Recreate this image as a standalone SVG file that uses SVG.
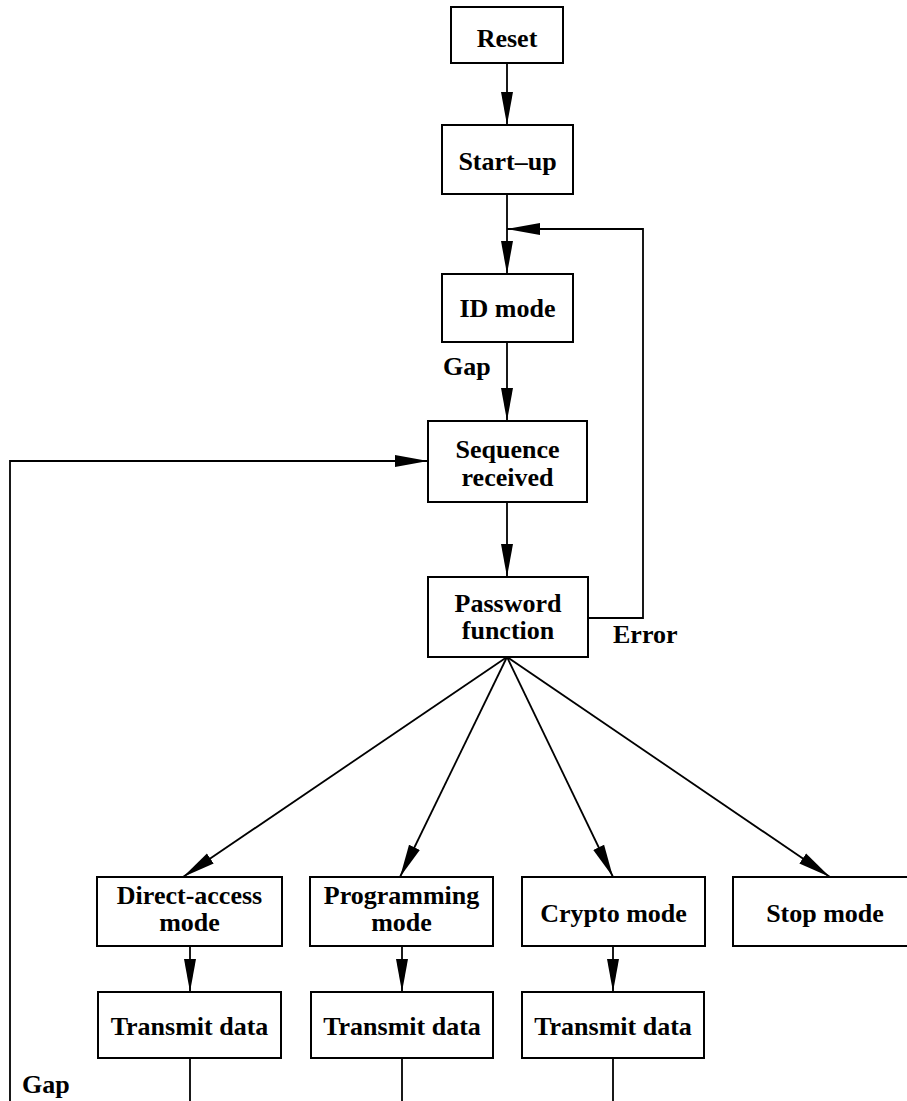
<svg xmlns="http://www.w3.org/2000/svg" width="907" height="1101" viewBox="0 0 907 1101">
<style>
.box{fill:#fff;stroke:#000;stroke-width:2}
.ln{fill:none;stroke:#000;stroke-width:1.8}
.t{font-family:"Liberation Serif","Times New Roman",serif;font-weight:bold;font-size:26px;fill:#000}
.c{text-anchor:middle}
</style>
<defs>
<marker id="ah" markerUnits="userSpaceOnUse" markerWidth="34" markerHeight="14" viewBox="0 0 34 14" refX="33" refY="7" orient="auto">
<path d="M0,1 L33,7 L0,13 z" fill="#000"/>
</marker>
</defs>
<rect width="907" height="1101" fill="#fff"/>
<g id="connectors">
<line class="ln" x1="507" y1="63" x2="507" y2="125" marker-end="url(#ah)"/>
<line class="ln" x1="507" y1="194" x2="507" y2="274" marker-end="url(#ah)"/>
<path class="ln" d="M588,618 H643 V229 H507" marker-end="url(#ah)"/>
<line class="ln" x1="507" y1="342" x2="507" y2="421" marker-end="url(#ah)"/>
<path class="ln" d="M10,1101 V461 H428" marker-end="url(#ah)"/>
<line class="ln" x1="507" y1="502" x2="507" y2="577" marker-end="url(#ah)"/>
<line class="ln" x1="507" y1="657" x2="183" y2="877" marker-end="url(#ah)"/>
<line class="ln" x1="507" y1="657" x2="400" y2="877" marker-end="url(#ah)"/>
<line class="ln" x1="507" y1="657" x2="613" y2="877" marker-end="url(#ah)"/>
<line class="ln" x1="507" y1="657" x2="830" y2="877" marker-end="url(#ah)"/>
<line class="ln" x1="190" y1="946" x2="190" y2="992" marker-end="url(#ah)"/>
<line class="ln" x1="402" y1="946" x2="402" y2="992" marker-end="url(#ah)"/>
<line class="ln" x1="613" y1="946" x2="613" y2="992" marker-end="url(#ah)"/>
<line class="ln" x1="190" y1="1058" x2="190" y2="1101"/>
<line class="ln" x1="402" y1="1058" x2="402" y2="1101"/>
<line class="ln" x1="613" y1="1058" x2="613" y2="1101"/>
</g>
<g id="labels">
<text class="t" x="443" y="375">Gap</text>
<text class="t" x="613" y="643">Error</text>
<text class="t" x="22" y="1093">Gap</text>
</g>
<g id="reset">
<rect class="box" x="451" y="7" width="112" height="56"/>
<text class="t c" x="507" y="47">Reset</text>
</g>
<g id="startup">
<rect class="box" x="442" y="125" width="131" height="69"/>
<text class="t c" x="507.5" y="170">Start–up</text>
</g>
<g id="idmode">
<rect class="box" x="442" y="274" width="131" height="68"/>
<text class="t c" x="507.5" y="317">ID mode</text>
</g>
<g id="sequence">
<rect class="box" x="428" y="421" width="159" height="81"/>
<text class="t c" x="507.5" y="458">Sequence</text>
<text class="t c" x="507.5" y="486">received</text>
</g>
<g id="password">
<rect class="box" x="428" y="577" width="160" height="80"/>
<text class="t c" x="508" y="612">Password</text>
<text class="t c" x="508" y="639">function</text>
</g>
<g id="direct">
<rect class="box" x="97" y="877" width="185" height="69"/>
<text class="t c" x="189.5" y="904">Direct-access</text>
<text class="t c" x="189.5" y="931">mode</text>
</g>
<g id="programming">
<rect class="box" x="310" y="877" width="183" height="69"/>
<text class="t c" x="401.5" y="904">Programming</text>
<text class="t c" x="401.5" y="931">mode</text>
</g>
<g id="crypto">
<rect class="box" x="522" y="877" width="183" height="69"/>
<text class="t c" x="613.5" y="922">Crypto mode</text>
</g>
<g id="stop">
<rect class="box" x="733" y="877" width="184" height="69"/>
<text class="t c" x="825" y="922">Stop mode</text>
</g>
<g id="transmit1">
<rect class="box" x="98" y="992" width="183" height="66"/>
<text class="t c" x="189.5" y="1035">Transmit data</text>
</g>
<g id="transmit2">
<rect class="box" x="311" y="992" width="182" height="66"/>
<text class="t c" x="402" y="1035">Transmit data</text>
</g>
<g id="transmit3">
<rect class="box" x="522" y="992" width="182" height="66"/>
<text class="t c" x="613" y="1035">Transmit data</text>
</g>
</svg>
